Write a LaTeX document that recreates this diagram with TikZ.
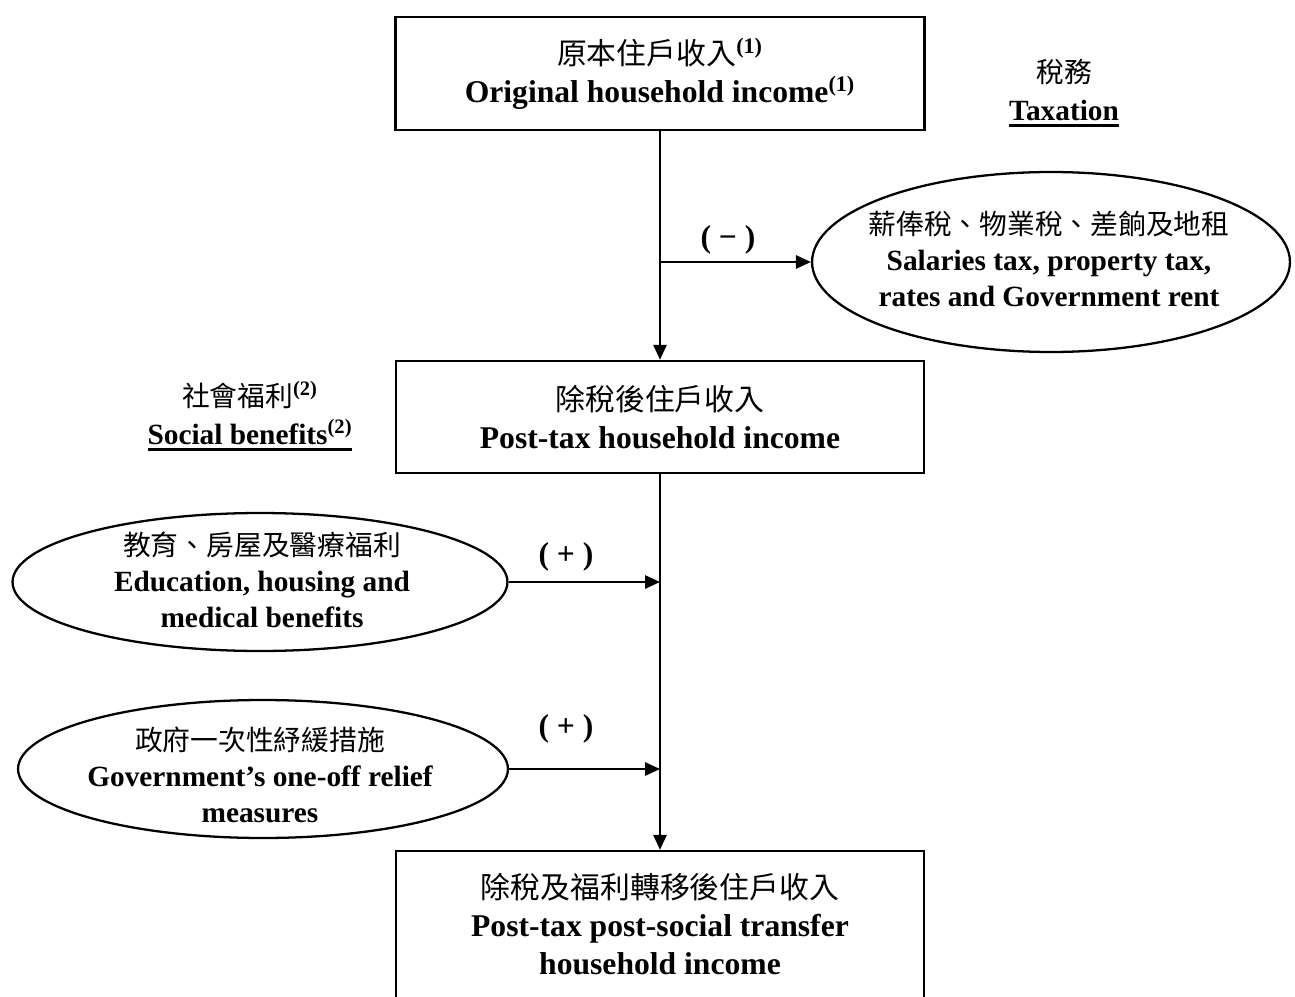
\documentclass[tikz,border=0pt]{standalone}
\usepackage{fontspec}
\setmainfont{Liberation Serif}
\newfontfamily\cjk{Noto Sans CJK TC}
\newcommand{\zh}[1]{{\cjk\mdseries\fontsize{17}{21.5}\selectfont #1}}
\newcommand{\zhs}[1]{{\cjk\mdseries\fontsize{15.8}{20.5}\selectfont #1}}
\newcommand{\thickul}[1]{\setbox0\hbox{#1}\rlap{\rule[-3.6pt]{\wd0}{1.4pt}}\box0}
\usetikzlibrary{shapes.geometric,arrows.meta}
\begin{document}
\begin{tikzpicture}[x=0.02cm,y=-0.02cm,
  every node/.style={font=\fontsize{18}{21.5}\selectfont\bfseries, align=center, inner sep=0pt},
  small/.style={font=\fontsize{16.7}{20.5}\selectfont\bfseries},
  box/.style={draw, line width=1.4pt, rectangle},
  oval/.style={draw, line width=1.3pt, ellipse},
  conn/.style={line width=1.3pt, -{Triangle[length=8.5pt,width=7.5pt]}},
]
\useasboundingbox (0,0) rectangle (1295,997);
% boxes
\node[box, minimum width=10.58cm, minimum height=2.26cm] (b1) at (660,73.5)
  {\zh{原本住戶收入}\textsuperscript{(1)}\\Original household income\textsuperscript{(1)}};
\node[box, minimum width=10.56cm, minimum height=2.24cm] (b2) at (660,417)
  {\zh{除稅後住戶收入}\\Post-tax household income};
\node[box, minimum width=10.56cm, minimum height=3.2cm] (b3) at (660,931) {};
\node (b3t) at (660,924)
  {\zh{除稅及福利轉移後住戶收入}\\Post-tax post-social transfer\\household income};
% ellipses
\node[oval, minimum width=9.56cm, minimum height=3.6cm] (e1) at (1051,262) {};
\node[small] (e1t) at (1049,259)
  {\zhs{薪俸稅、物業稅、差餉及地租}\\Salaries tax, property tax,\\rates and Government rent};
\node[oval, minimum width=9.9cm, minimum height=2.76cm] (e2) at (260,582) {};
\node[small] (e2t) at (262,580)
  {\zhs{教育、房屋及醫療福利}\\Education, housing and\\medical benefits};
\node[oval, minimum width=9.8cm, minimum height=2.76cm] (e3) at (263,769) {};
\node[small] (e3t) at (260,775)
  {\zhs{政府一次性紓緩措施}\\Government’s one-off relief\\measures};
% side labels
\node[small] (tax) at (1064,93) {\zhs{稅務}\\[1pt]\thickul{Taxation}};
\node[small] (sb) at (250,416) {\zhs{社會福利}\textsuperscript{(2)}\\[1pt]\thickul{Social benefits\textsuperscript{(2)}}};
\node (lm) at (728,240) {( − )};
\node (lp1) at (566,557) {( + )};
\node (lp2) at (566,729) {( + )};
% connectors
\coordinate (j1) at (660,262);
\draw[conn] (b1.south) -- (b2.north);
\draw[conn] (j1) -- (e1.west);
\draw[conn] (b2.south) -- (b3.north);
\draw[conn] (e2.east) -- (e2.east -| b2.south);
\draw[conn] (e3.east) -- (e3.east -| b2.south);
\end{tikzpicture}
\end{document}
